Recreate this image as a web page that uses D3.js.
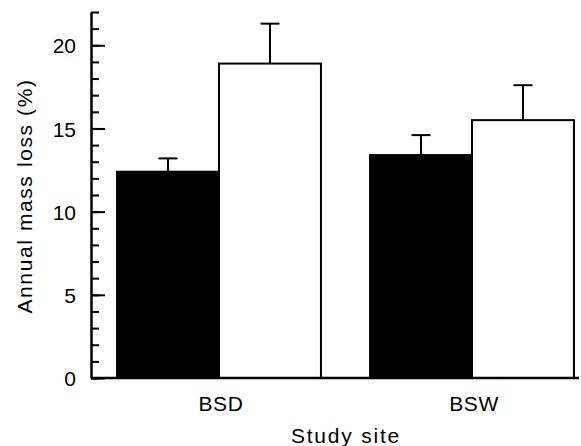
<!DOCTYPE html>
<html>
<head>
<meta charset="utf-8">
<script src="https://cdn.jsdelivr.net/npm/d3@7"></script>
<style>
  body { margin: 0; background: #fff; }
  text { font-family: "Liberation Sans", Arial, sans-serif; fill: #000; }
</style>
</head>
<body>
<svg id="chart" width="581" height="446"></svg>
<script>
// data
const sites = ["BSD", "BSW"];
const treatments = ["filled", "open"];
const means = [[12.4, 18.9], [13.4, 15.5]];
const errors = [[0.8, 2.4], [1.2, 2.1]];
const majorTicks = [0, 5, 10, 15, 20];

const svg = d3.select("#chart");

const rows = [];
sites.forEach((s, i) => {
  treatments.forEach((t, j) => {
    rows.push({ site: s, trt: t, mean: means[i][j], err: errors[i][j] });
  });
});

const y = d3.scaleLinear().domain([0, 22]).range([378, 12]);

// groups: BSD bars 117-320, BSW bars 370-575
const x0 = d3.scaleBand()
  .domain(sites)
  .range([92.5, 598.5])
  .paddingInner(0.194)
  .paddingOuter(0.097);

const x1 = d3.scaleBand()
  .domain(treatments)
  .range([0, x0.bandwidth()]);

// bars
const g = svg.append("g");
g.selectAll("rect")
  .data(rows)
  .enter()
  .append("rect")
  .attr("x", (d) => x0(d.site) + x1(d.trt))
  .attr("y", (d) => y(d.mean))
  .attr("width", x1.bandwidth())
  .attr("height", (d) => y(0) - y(d.mean))
  .style("fill", (d) => (d.trt === "filled" ? "#000" : "#fff"))
  .style("stroke", "#000")
  .style("stroke-width", 2);

// error bars (upper only)
const eb = g.selectAll(".err")
  .data(rows)
  .enter()
  .append("g")
  .attr("class", "err")
  .attr("transform", (d) => `translate(${x0(d.site) + x1(d.trt) + x1.bandwidth() / 2},0)`);

eb.append("line")
  .attr("y1", (d) => y(d.mean))
  .attr("y2", (d) => y(d.mean + d.err))
  .style("stroke", "#000")
  .style("stroke-width", 2);

eb.append("line")
  .attr("x1", -9.5)
  .attr("x2", 9.5)
  .attr("y1", (d) => y(d.mean + d.err))
  .attr("y2", (d) => y(d.mean + d.err))
  .style("stroke", "#000")
  .style("stroke-width", 2);

// y axis: minor ticks every unit, major every 5, all pointing inward
const axisX = 91;
const minorAxis = d3.axisLeft(y)
  .tickValues(d3.range(0, 23))
  .tickSize(-8)
  .tickSizeOuter(0)
  .tickFormat("");

const yMinor = svg.append("g")
  .attr("transform", `translate(${axisX},0)`)
  .call(minorAxis);
yMinor.selectAll("line").style("stroke-width", 2);
yMinor.select(".domain").style("stroke-width", 2.5);

const majorAxis = d3.axisLeft(y)
  .tickValues(majorTicks)
  .tickSize(-14)
  .tickPadding(15)
  .tickFormat(d3.format("d"));

const yMajor = svg.append("g")
  .attr("transform", `translate(${axisX},0)`)
  .call(majorAxis);
yMajor.select(".domain").remove();
yMajor.selectAll("line").style("stroke-width", 2);
yMajor.selectAll("text")
  .style("font-size", "21px")
  .style("font-family", "'Liberation Sans', Arial, sans-serif")
  .attr("dy", "0.36em");

// x axis baseline
svg.append("line")
  .attr("x1", axisX)
  .attr("x2", 579)
  .attr("y1", y(0))
  .attr("y2", y(0))
  .style("stroke", "#000")
  .style("stroke-width", 2.5);

// category labels
svg.selectAll(".site-label")
  .data(sites)
  .enter()
  .append("text")
  .attr("class", "site-label")
  .attr("x", (d) => x0(d) + x0.bandwidth() / 2 + 2)
  .attr("y", 411)
  .attr("text-anchor", "middle")
  .style("font-size", "21px")
  .style("letter-spacing", "0.6px")
  .text((d) => d);

// axis titles
svg.append("text")
  .attr("x", 346)
  .attr("y", 443)
  .attr("text-anchor", "middle")
  .style("font-size", "21px")
  .style("letter-spacing", "1.8px")
  .text("Study site");

svg.append("text")
  .attr("transform", "translate(32,196) rotate(-90)")
  .attr("text-anchor", "middle")
  .style("font-size", "21px")
  .style("letter-spacing", "1.6px")
  .text("Annual mass loss (%)");
</script>
</body>
</html>
